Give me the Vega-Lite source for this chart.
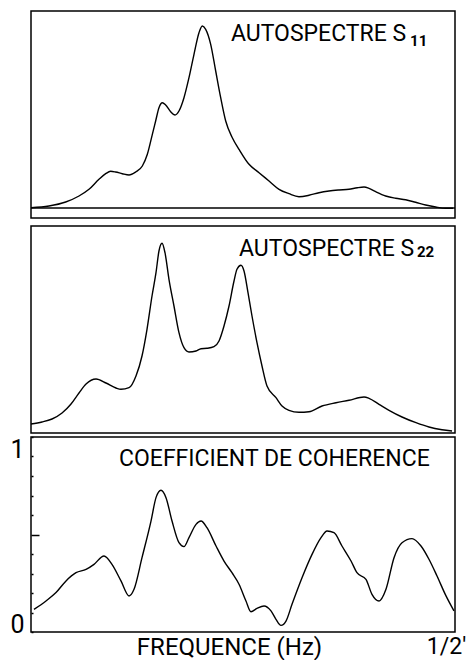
{
  "$schema": "https://vega.github.io/schema/vega-lite/v6.json",
  "background": "white",
  "padding": {"left": 9, "top": 10, "right": 0, "bottom": 0},
  "config": {
    "view": {"stroke": "black", "strokeWidth": 1.5},
    "font": "Roboto",
    "text": {"font": "Roboto", "color": "black"}
  },
  "datasets": {
    "s11": [
      {"f":0,"v":0.3},{"f":0.0212,"v":2},{"f":0.0409,"v":6},{"f":0.0566,"v":12},{"f":0.0684,"v":18.7},
      {"f":0.0802,"v":28.7},{"f":0.0881,"v":34.3},{"f":0.0939,"v":36.7},{"f":0.0998,"v":36},{"f":0.1077,"v":34.3},
      {"f":0.1156,"v":33},{"f":0.1234,"v":36},{"f":0.1313,"v":42},{"f":0.1372,"v":53.7},{"f":0.1431,"v":73.7},
      {"f":0.147,"v":87},{"f":0.1509,"v":100.3},{"f":0.1549,"v":105.3},{"f":0.1588,"v":103},{"f":0.1647,"v":96.3},
      {"f":0.1698,"v":93},{"f":0.1745,"v":97},{"f":0.1804,"v":110.3},{"f":0.1863,"v":130.3},{"f":0.1922,"v":153.7},
      {"f":0.1981,"v":175.3},{"f":0.202,"v":182},{"f":0.206,"v":178.7},{"f":0.2119,"v":163.7},{"f":0.2178,"v":137},
      {"f":0.2237,"v":110.3},{"f":0.2296,"v":87},{"f":0.2374,"v":70.3},{"f":0.2453,"v":58.7},{"f":0.2571,"v":43.7},
      {"f":0.2689,"v":35.3},{"f":0.2807,"v":27},{"f":0.2925,"v":18.7},{"f":0.3042,"v":14.3},{"f":0.316,"v":11.3},
      {"f":0.3278,"v":12.7},{"f":0.3396,"v":15.3},{"f":0.3514,"v":17},{"f":0.3632,"v":18},{"f":0.375,"v":18.7},
      {"f":0.3848,"v":20.3},{"f":0.3927,"v":21},{"f":0.3986,"v":19.7},{"f":0.4065,"v":16.3},{"f":0.4182,"v":12},
      {"f":0.43,"v":9.7},{"f":0.4418,"v":8.3},{"f":0.4536,"v":5.7},{"f":0.4654,"v":3},{"f":0.4772,"v":1},
      {"f":0.489,"v":-0.3},{"f":0.4976,"v":-0.3}
    ],
    "s22": [
      {"f":0,"v":9},{"f":0.013,"v":11},{"f":0.0248,"v":14},{"f":0.0366,"v":20},{"f":0.0472,"v":29},
      {"f":0.0566,"v":40},{"f":0.0649,"v":49},{"f":0.0767,"v":54},{"f":0.0884,"v":50},{"f":0.1002,"v":45},
      {"f":0.1061,"v":43.7},{"f":0.1156,"v":45.3},{"f":0.1238,"v":57},{"f":0.1309,"v":77},{"f":0.1368,"v":103.7},
      {"f":0.1427,"v":137},{"f":0.1474,"v":160.3},{"f":0.1509,"v":182},{"f":0.1545,"v":189.7},{"f":0.158,"v":180.3},
      {"f":0.1627,"v":153.7},{"f":0.1686,"v":127},{"f":0.1745,"v":100.3},{"f":0.1804,"v":85.3},{"f":0.1863,"v":81},
      {"f":0.1946,"v":82},{"f":0.2005,"v":84.3},{"f":0.2075,"v":84.7},{"f":0.2158,"v":86.3},{"f":0.2217,"v":92},
      {"f":0.2276,"v":107},{"f":0.2335,"v":127},{"f":0.2394,"v":152},{"f":0.2429,"v":163.7},{"f":0.2476,"v":167.7},
      {"f":0.2512,"v":162},{"f":0.2559,"v":140.3},{"f":0.2606,"v":117},{"f":0.2665,"v":90.3},{"f":0.2724,"v":67},
      {"f":0.2783,"v":47},{"f":0.2889,"v":35.3},{"f":0.296,"v":27},{"f":0.3042,"v":22.7},{"f":0.316,"v":20.7},
      {"f":0.3278,"v":21.3},{"f":0.3432,"v":27},{"f":0.3597,"v":30.3},{"f":0.375,"v":32.7},{"f":0.3927,"v":36},
      {"f":0.3986,"v":34.7},{"f":0.4104,"v":28.7},{"f":0.4222,"v":22.7},{"f":0.4375,"v":16},{"f":0.454,"v":10.3},
      {"f":0.4693,"v":6},{"f":0.4847,"v":3.3},{"f":0.4965,"v":2}
    ],
    "coh": [
      {"f":0.0035,"v":0.116},{"f":0.0177,"v":0.159},{"f":0.0295,"v":0.202},{"f":0.0413,"v":0.262},{"f":0.0531,"v":0.304},
      {"f":0.0649,"v":0.321},{"f":0.0743,"v":0.347},{"f":0.0861,"v":0.39},{"f":0.0955,"v":0.347},{"f":0.1061,"v":0.262},
      {"f":0.1156,"v":0.185},{"f":0.1215,"v":0.219},{"f":0.1309,"v":0.381},{"f":0.1415,"v":0.569},{"f":0.1474,"v":0.689},
      {"f":0.1533,"v":0.727},{"f":0.1592,"v":0.689},{"f":0.1663,"v":0.569},{"f":0.1745,"v":0.458},{"f":0.1804,"v":0.438},
      {"f":0.1863,"v":0.484},{"f":0.1946,"v":0.552},{"f":0.2005,"v":0.569},{"f":0.2075,"v":0.535},{"f":0.2182,"v":0.441},
      {"f":0.2276,"v":0.364},{"f":0.237,"v":0.304},{"f":0.2453,"v":0.245},{"f":0.2535,"v":0.159},{"f":0.2594,"v":0.104},
      {"f":0.2665,"v":0.121},{"f":0.2748,"v":0.133},{"f":0.283,"v":0.108},{"f":0.2889,"v":0.065},{"f":0.2948,"v":0.034},
      {"f":0.3007,"v":0.056},{"f":0.3078,"v":0.142},{"f":0.3196,"v":0.278},{"f":0.3314,"v":0.398},{"f":0.342,"v":0.484},
      {"f":0.3491,"v":0.518},{"f":0.3573,"v":0.509},{"f":0.3667,"v":0.441},{"f":0.3774,"v":0.364},{"f":0.3844,"v":0.304},
      {"f":0.395,"v":0.27},{"f":0.4021,"v":0.193},{"f":0.4104,"v":0.159},{"f":0.4186,"v":0.219},{"f":0.4281,"v":0.381},
      {"f":0.4375,"v":0.458},{"f":0.4493,"v":0.479},{"f":0.4599,"v":0.441},{"f":0.4693,"v":0.373},{"f":0.4788,"v":0.287},
      {"f":0.4894,"v":0.185},{"f":0.4988,"v":0.108}
    ]
  },
  "spacing": 8,
  "bounds": "flush",
  "vconcat": [
    {
      "width": 424,
      "height": 207,
      "encoding": {
        "x": {"field": "f", "type": "quantitative", "scale": {"domain": [0, 0.5], "nice": false}, "axis": null},
        "y": {"field": "v", "type": "quantitative", "scale": {"domain": [-10, 197], "nice": false, "zero": false}, "axis": null}
      },
      "layer": [
        {"data": {"name": "s11"}, "mark": {"type": "line", "color": "black", "strokeWidth": 1.4, "interpolate": "monotone"}},
        {"data": {"values": [{"v": 0}]}, "mark": {"type": "rule", "color": "black", "strokeWidth": 1.4}, "encoding": {"y": {"field": "v", "type": "quantitative"}, "x": null}},
        {"data": {"values": [{"f": 0.2358, "v": 167, "t": "AUTOSPECTRE S"}]}, "mark": {"type": "text", "align": "left", "baseline": "alphabetic", "fontSize": 23}, "encoding": {"text": {"field": "t"}}},
        {"data": {"values": [{"f": 0.447, "v": 162, "t": "11"}]}, "mark": {"type": "text", "align": "left", "baseline": "alphabetic", "fontSize": 15, "fontWeight": "bold"}, "encoding": {"text": {"field": "t"}}}
      ]
    },
    {
      "spacing": 4,
      "bounds": "flush",
      "vconcat": [
        {
          "width": 424,
          "height": 207,
          "encoding": {
            "x": {"field": "f", "type": "quantitative", "scale": {"domain": [0, 0.5], "nice": false}, "axis": null},
            "y": {"field": "v", "type": "quantitative", "scale": {"domain": [0, 207], "nice": false}, "axis": null}
          },
          "layer": [
            {"data": {"name": "s22"}, "mark": {"type": "line", "color": "black", "strokeWidth": 1.4, "interpolate": "monotone"}},
            {"data": {"values": [{"f": 0.2453, "v": 177, "t": "AUTOSPECTRE S"}]}, "mark": {"type": "text", "align": "left", "baseline": "alphabetic", "fontSize": 23}, "encoding": {"text": {"field": "t"}}},
            {"data": {"values": [{"f": 0.4552, "v": 176, "t": "22"}]}, "mark": {"type": "text", "align": "left", "baseline": "alphabetic", "fontSize": 15, "fontWeight": "bold"}, "encoding": {"text": {"field": "t"}}}
          ]
        },
        {
          "width": 424,
          "height": 195,
          "encoding": {
            "x": {"field": "f", "type": "quantitative", "scale": {"domain": [0, 0.5], "nice": false},
              "axis": {"values": [0.5], "labelExpr": "\"1/2'\"", "ticks": false, "domain": false, "grid": false,
                "labelFont": "Roboto", "labelFontSize": 23, "labelColor": "black", "labelPadding": 3, "labelOffset": -9, "labelFlush": false, "labelAlign": "center",
                "title": "FREQUENCE (Hz)", "titleFont": "Roboto", "titleFontSize": 24, "titleFontWeight": "normal", "titleColor": "black",
                "titleX": 198, "titleY": 22, "titleBaseline": "alphabetic", "titleAlign": "center", "titleAnchor": null}},
            "y": {"field": "v", "type": "quantitative", "scale": {"domain": [0, 1], "nice": false},
              "axis": {"values": [0, 0.1, 0.2, 0.3, 0.4, 0.5, 0.6, 0.7, 0.8, 0.9, 1],
                "labelExpr": "datum.value == 0 ? '0' : (datum.value == 1 ? '1' : '')",
                "domain": false, "grid": false, "title": null, "tickColor": "black", "tickWidth": 1.5,
                "tickSize": {"condition": {"test": "datum.value == 0.5", "value": -8}, "value": -2},
                "labelBaseline": {"condition": {"test": "datum.value == 1", "value": "top"}, "value": "alphabetic"},
                "labelFont": "Roboto", "labelFontSize": 25, "labelColor": "black", "labelPadding": 9}}
          },
          "layer": [
            {"data": {"name": "coh"}, "mark": {"type": "line", "color": "black", "strokeWidth": 1.4, "interpolate": "monotone"}},
            {"data": {"values": [{"f": 0.1038, "v": 0.851, "t": "COEFFICIENT DE COHERENCE"}]}, "mark": {"type": "text", "align": "left", "baseline": "alphabetic", "fontSize": 23}, "encoding": {"text": {"field": "t"}}}
          ]
        }
      ]
    }
  ]
}
